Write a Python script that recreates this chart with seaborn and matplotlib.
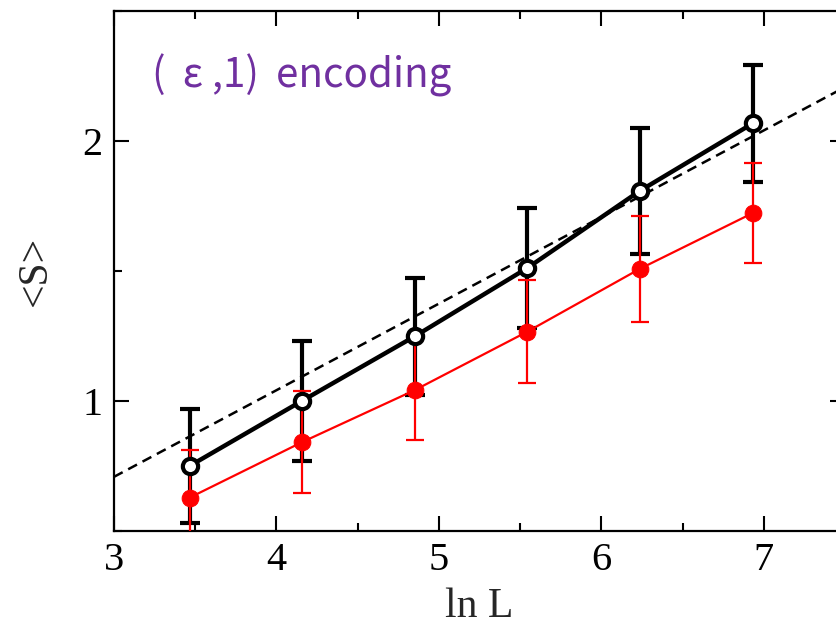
import numpy as np
import pandas as pd
import matplotlib
matplotlib.use("Agg")
import matplotlib.pyplot as plt
from matplotlib.ticker import MultipleLocator
import seaborn as sns

# System sizes (ln L) and mean entropy <S> with error bars
ln_L = [3.466, 4.159, 4.852, 5.545, 6.238, 6.931]
s_open = [0.749, 1.000, 1.248, 1.511, 1.808, 2.067]
err_open = [0.22, 0.23, 0.226, 0.23, 0.242, 0.226]
s_filled = [0.627, 0.841, 1.041, 1.266, 1.508, 1.722]
err_filled = [0.185, 0.195, 0.192, 0.197, 0.203, 0.192]

# Reference fit line <S> = a * ln L + b
fit_slope = 1.0 / 3.0
fit_intercept = -0.293
fit_x = [3.0, 7.5]

label_text = "(\u2009 ε ,1) \u2009encoding"

sns.set_theme(style="ticks")
plt.rcParams["font.family"] = ["Liberation Serif", "DejaVu Serif"]

fig = plt.figure(figsize=(8.37, 6.3), dpi=100)
ax = fig.add_axes([0.136, 0.1576, 0.8736, 0.825])

df_open = pd.DataFrame({"lnL": ln_L, "S": s_open})
df_filled = pd.DataFrame({"lnL": ln_L, "S": s_filled})

fx = np.array(fit_x)
ax.plot(fx, fit_slope * fx + fit_intercept, color="black", lw=1.8,
        dashes=(4, 2.5), zorder=1)

ax.errorbar(ln_L, s_open, yerr=err_open, fmt="none", ecolor="black",
            elinewidth=3.0, capsize=7.5, capthick=3.0, zorder=2)
ax.errorbar(ln_L, s_filled, yerr=err_filled, fmt="none", ecolor="#ff0000",
            elinewidth=1.6, capsize=6.5, capthick=1.6, zorder=3)

sns.lineplot(data=df_filled, x="lnL", y="S", ax=ax, color="#ff0000", lw=1.6,
             marker="o", markersize=12, markeredgecolor="#ff0000",
             markerfacecolor="#ff0000", zorder=4)
sns.lineplot(data=df_open, x="lnL", y="S", ax=ax, color="black", lw=3.2,
             marker="o", markersize=11, markeredgewidth=3.0,
             markeredgecolor="black", markerfacecolor="white", zorder=5)

ax.set_xlim(3, 7.5)
ax.set_ylim(0.5, 2.5)
ax.xaxis.set_major_locator(MultipleLocator(1))
ax.xaxis.set_minor_locator(MultipleLocator(0.5))
ax.yaxis.set_major_locator(MultipleLocator(1))
ax.yaxis.set_minor_locator(MultipleLocator(0.5))
ax.tick_params(which="both", direction="in", top=True, right=True,
               width=1.5, labelsize=29, colors="black", pad=8)
ax.tick_params(which="major", length=11)
ax.tick_params(which="minor", length=6)
for sp in ax.spines.values():
    sp.set_linewidth(1.6)
    sp.set_color("black")

ax.set_xlabel("ln L", fontsize=30, labelpad=6)
ax.set_ylabel("<S>", fontsize=30, labelpad=20)

ax.text(0.052, 0.877, label_text, transform=ax.transAxes, fontsize=29,
        color="#7030A0", family=["Noto Sans CJK JP", "DejaVu Sans"],
        va="center", ha="left")

fig.savefig("out.png", dpi=100)
